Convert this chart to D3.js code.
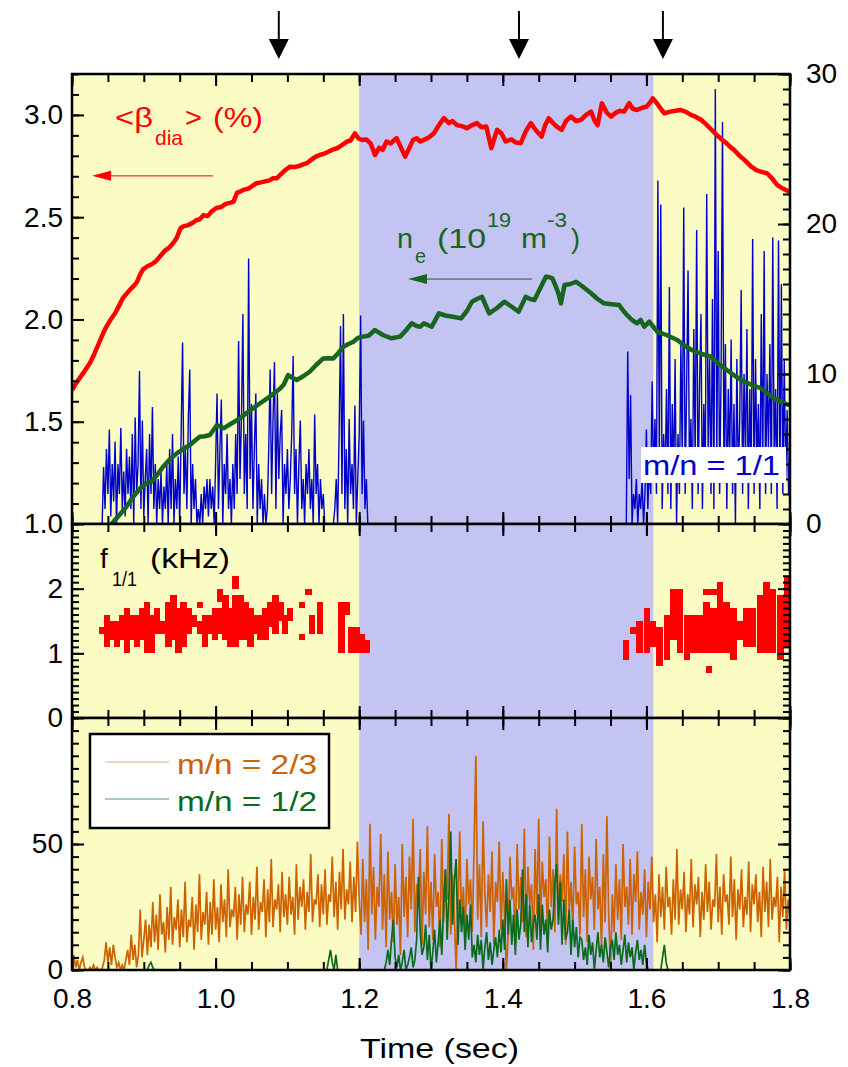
<!DOCTYPE html>
<html>
<head>
<meta charset="utf-8">
<script src="https://cdn.jsdelivr.net/npm/d3@7"></script>
<style>
    body { margin: 0; background: #fff; }
    text { font-family: "Liberation Sans", Arial, sans-serif; }
</style>
</head>
<body>
<svg id="chart" width="848" height="1067"></svg>
<script>
// shaded time windows and marked times (sec)
const shadeBands = [[0.8, 1.2, "#fbfbc4"], [1.2, 1.61, "#c4c4f2"], [1.61, 1.8, "#fbfbc4"]];
const arrowTimes = [1.088, 1.4226, 1.623];

// <beta_dia> (%) : [time, value]
const betaDia = [
    [0.800, 1.655], [0.806, 1.69], [0.812, 1.72], [0.818, 1.75], [0.825, 1.787], [0.831, 1.83],
    [0.837, 1.88], [0.843, 1.93], [0.848, 1.965], [0.854, 2.0], [0.860, 2.03], [0.866, 2.07],
    [0.871, 2.105], [0.877, 2.13], [0.882, 2.15], [0.885, 2.16], [0.890, 2.18], [0.895, 2.22],
    [0.899, 2.245], [0.905, 2.26], [0.911, 2.27], [0.917, 2.285], [0.923, 2.31], [0.929, 2.335],
    [0.935, 2.35], [0.941, 2.374], [0.946, 2.40], [0.951, 2.445], [0.955, 2.455], [0.961, 2.46],
    [0.967, 2.47], [0.973, 2.485], [0.978, 2.49], [0.983, 2.51], [0.989, 2.505], [0.995, 2.53],
    [1.001, 2.545], [1.008, 2.55], [1.014, 2.565], [1.020, 2.57], [1.025, 2.576], [1.030, 2.62],
    [1.034, 2.625], [1.040, 2.635], [1.046, 2.64], [1.052, 2.655], [1.057, 2.666], [1.063, 2.67],
    [1.069, 2.675], [1.075, 2.68], [1.080, 2.69], [1.085, 2.69], [1.091, 2.71], [1.097, 2.73],
    [1.104, 2.747], [1.110, 2.745], [1.116, 2.75], [1.121, 2.757], [1.127, 2.764], [1.133, 2.78],
    [1.139, 2.795], [1.145, 2.804], [1.151, 2.81], [1.157, 2.82], [1.163, 2.83], [1.169, 2.837],
    [1.175, 2.85], [1.180, 2.862], [1.183, 2.87], [1.188, 2.875], [1.194, 2.91], [1.199, 2.885],
    [1.204, 2.877], [1.210, 2.88], [1.216, 2.86], [1.222, 2.804], [1.228, 2.84], [1.233, 2.83],
    [1.238, 2.87], [1.244, 2.86], [1.248, 2.875], [1.252, 2.886], [1.257, 2.85], [1.264, 2.796],
    [1.270, 2.84], [1.275, 2.878], [1.280, 2.886], [1.285, 2.87], [1.290, 2.878], [1.297, 2.89],
    [1.304, 2.91], [1.311, 2.95], [1.318, 2.984], [1.325, 2.96], [1.330, 2.97], [1.336, 2.95],
    [1.343, 2.945], [1.350, 2.935], [1.357, 2.95], [1.364, 2.96], [1.370, 2.94], [1.377, 2.943],
    [1.384, 2.837], [1.392, 2.927], [1.398, 2.91], [1.404, 2.87], [1.412, 2.88], [1.418, 2.865],
    [1.425, 2.862], [1.432, 2.92], [1.439, 2.96], [1.446, 2.925], [1.454, 2.894], [1.459, 2.95],
    [1.464, 2.984], [1.470, 2.96], [1.476, 2.94], [1.482, 2.927], [1.488, 2.97], [1.495, 2.992],
    [1.502, 2.97], [1.509, 2.976], [1.516, 3.0], [1.523, 3.016], [1.528, 2.97], [1.532, 2.95],
    [1.538, 3.057], [1.545, 3.01], [1.551, 2.992], [1.557, 3.01], [1.563, 3.02], [1.569, 3.016],
    [1.576, 3.057], [1.581, 3.03], [1.587, 3.024], [1.594, 3.035], [1.600, 3.04], [1.605, 3.06],
    [1.609, 3.081], [1.614, 3.06], [1.620, 3.03], [1.625, 3.008], [1.632, 3.015], [1.640, 3.02],
    [1.648, 3.024], [1.655, 3.015], [1.662, 3.0], [1.669, 2.99], [1.676, 2.976], [1.683, 2.955],
    [1.690, 2.93], [1.698, 2.902], [1.705, 2.88], [1.712, 2.86], [1.718, 2.84], [1.722, 2.829],
    [1.730, 2.8], [1.738, 2.775], [1.746, 2.747], [1.753, 2.73], [1.760, 2.722], [1.768, 2.715],
    [1.775, 2.69], [1.782, 2.658], [1.790, 2.64], [1.799, 2.625]];

// n_e (10^19 m^-3) : [time, value]
const neLine = [
    [0.855, 0.0], [0.866, 0.6], [0.876, 1.16], [0.885, 1.8], [0.895, 2.38], [0.903, 2.7],
    [0.911, 2.82], [0.919, 3.3], [0.927, 3.82], [0.936, 4.3], [0.946, 4.71], [0.955, 5.0],
    [0.964, 5.27], [0.971, 5.55], [0.978, 5.82], [0.985, 5.85], [0.992, 5.93], [1.002, 6.6],
    [1.011, 6.38], [1.022, 6.7], [1.034, 7.04], [1.043, 7.4], [1.052, 7.71], [1.062, 8.05],
    [1.072, 8.38], [1.081, 8.7], [1.090, 9.04], [1.095, 9.3], [1.101, 9.93], [1.107, 9.75],
    [1.113, 9.6], [1.122, 9.85], [1.131, 10.15], [1.140, 10.6], [1.150, 11.04], [1.157, 11.05],
    [1.164, 11.04], [1.171, 11.4], [1.178, 11.82], [1.185, 12.0], [1.192, 12.15], [1.198, 12.4],
    [1.205, 12.49], [1.213, 12.55], [1.222, 12.93], [1.233, 12.6], [1.245, 12.38], [1.257, 12.49],
    [1.265, 12.9], [1.273, 13.38], [1.280, 13.2], [1.285, 13.15], [1.290, 13.38], [1.301, 13.15],
    [1.311, 14.04], [1.320, 13.9], [1.332, 13.8], [1.342, 13.71], [1.350, 14.2], [1.357, 14.82],
    [1.364, 15.0], [1.371, 15.15], [1.381, 14.04], [1.392, 14.4], [1.402, 14.82], [1.412, 14.5],
    [1.422, 14.15], [1.432, 15.15], [1.438, 15.0], [1.444, 14.93], [1.452, 15.7], [1.460, 16.49],
    [1.465, 16.45], [1.469, 16.38], [1.474, 15.82], [1.478, 15.3], [1.481, 14.71], [1.486, 15.93],
    [1.494, 16.0], [1.502, 16.15], [1.512, 15.8], [1.523, 15.38], [1.532, 15.0], [1.541, 14.71],
    [1.552, 14.65], [1.562, 14.6], [1.568, 14.2], [1.573, 13.93], [1.580, 13.6], [1.587, 13.38],
    [1.592, 13.6], [1.597, 13.15], [1.604, 13.49], [1.615, 12.82], [1.628, 12.6], [1.643, 12.27],
    [1.653, 11.9], [1.663, 11.6], [1.676, 11.35], [1.690, 11.15], [1.700, 10.7], [1.712, 10.27],
    [1.724, 9.85], [1.736, 9.49], [1.748, 9.25], [1.760, 9.04], [1.769, 8.7], [1.778, 8.38],
    [1.789, 8.1], [1.799, 7.93]];

// m/n = 1/1 amplitude (right axis units), sampled every 2 ms
const mode11Step = 0.002;
const mode11StartA = 0.842;
const mode11A = [
    0, 3.8, 1, 5, 2, 6.3, 0.5, 4, 1.5, 5.5, 0, 4, 2, 6.4, 1, 3.5, 0.5, 5, 2, 4.5,
    1, 6, 0, 7.1, 2, 4, 10.2, 1, 6.9, 0.5, 3, 5, 0, 6, 2, 7.8, 1, 4, 0, 3,
    1, 3.5, 0, 2.5, 1, 4, 0, 5, 1, 6, 0, 3, 1, 4.5, 0, 6, 12.1, 2, 5, 1,
    7, 10.3, 0, 4, 1, 3, 0, 1, 0, 2, 0, 2.5, 1, 3, 0.5, 3, 1, 2.5, 0, 4,
    8.7, 1, 5, 8.3, 0, 4, 2, 6, 1, 3, 0, 4, 1, 6, 2, 12.2, 3, 7, 14, 2,
    6, 1, 17.7, 3, 8, 1, 5, 8.7, 0, 4, 1, 3, 0, 2, 0, 1, 5, 10.3, 2, 7,
    10.8, 1, 8.7, 3, 6, 7.6, 0, 4, 2, 5, 1, 3, 6, 11.2, 2, 5, 0, 4, 6.9, 1,
    3, 0, 4, 2, 5, 1, 3, 0, 7.3, 2, 4, 0, 3, 1, 2, 0, 0, 0, 0, 0,
    0, 0, 1, 3, 0, 6, 13.2, 2, 14, 1, 5, 0, 7, 2, 4, 1, 7.9, 0, 3, 6,
    13.9, 2, 6.9, 1, 3, 0, 0, 0];
const mode11StartB = 1.572;
const mode11B = [
    0, 11.5, 3, 8.6, 0, 2, 1, 3, 0, 2, 1, 3, 0, 2, 6.3, 1, 4, 2, 9.5, 3,
    7, 2, 22.9, 4, 21.3, 1, 6, 3, 9, 2, 15.8, 1, 8, 3, 11, 0, 6, 2, 12, 4,
    21.1, 2, 9, 16.9, 3, 7, 1, 13, 4, 19.6, 2, 9, 14, 1, 8, 3, 22, 5, 11, 2,
    15, 1, 29, 4, 18.2, 2, 10, 26.8, 3, 12, 1, 9, 4, 12.3, 2, 8, 0, 11, 3, 7,
    15.6, 2, 10, 4, 13, 1, 9, 3, 19, 2, 11, 4, 8, 1, 14, 3, 18.2, 2, 10, 5,
    12, 2, 19.1, 4, 9, 1, 18.9, 3, 16, 2, 11, 3, 7.6, 2, 5];

// f_1/1 (kHz) spectrogram cells : [time, f low, f high]
const f11CellWidth = 0.009;
const f11Cells = [
    [0.837, 1.3, 1.4], [0.844, 1.1, 1.6], [0.851, 1.2, 1.5], [0.858, 1.1, 1.5], [0.865, 1.2, 1.6],
    [0.872, 1.0, 1.7], [0.879, 1.2, 1.6], [0.886, 1.1, 1.6], [0.893, 1.2, 1.7], [0.900, 1.0, 1.8],
    [0.907, 1.0, 1.6], [0.914, 1.3, 1.7], [0.921, 1.3, 1.5], [0.930, 1.1, 1.8], [0.937, 1.2, 1.9],
    [0.944, 1.0, 1.7], [0.951, 1.1, 1.8], [0.958, 1.3, 1.7], [0.965, 1.4, 1.6], [0.974, 1.7, 1.8],
    [0.974, 1.3, 1.5], [0.981, 1.1, 1.6], [0.988, 1.3, 1.6], [0.995, 1.2, 1.7], [1.002, 1.8, 2.0],
    [1.002, 1.3, 1.7], [1.009, 1.2, 1.9], [1.016, 1.1, 1.7], [1.023, 2.0, 2.2], [1.023, 1.1, 1.9],
    [1.030, 1.2, 1.9], [1.037, 1.2, 1.8], [1.044, 1.1, 1.7], [1.051, 1.3, 1.6], [1.058, 1.2, 1.6],
    [1.065, 1.2, 1.7], [1.072, 1.4, 1.8], [1.079, 1.3, 1.9], [1.086, 1.5, 1.8], [1.092, 1.3, 1.6],
    [1.099, 1.5, 1.7], [1.116, 1.7, 1.8], [1.116, 1.2, 1.3], [1.125, 1.9, 2.0], [1.130, 1.3, 1.6],
    [1.141, 1.3, 1.8], [1.171, 1.0, 1.8], [1.178, 1.6, 1.8], [1.185, 1.0, 1.4], [1.192, 1.0, 1.4],
    [1.199, 1.0, 1.3], [1.206, 1.0, 1.2],
    [1.567, 0.9, 1.2], [1.577, 1.3, 1.4], [1.586, 1.0, 1.5], [1.596, 1.0, 1.7], [1.605, 1.1, 1.5],
    [1.614, 0.8, 1.4], [1.624, 0.9, 1.6], [1.633, 1.2, 2.0], [1.642, 1.0, 2.0], [1.652, 0.9, 1.6],
    [1.661, 1.0, 1.6], [1.670, 1.0, 1.6], [1.679, 1.0, 1.8], [1.679, 1.9, 2.0], [1.683, 0.7, 0.8],
    [1.689, 1.0, 1.7], [1.689, 1.9, 2.0], [1.698, 1.0, 2.1], [1.707, 1.0, 1.8], [1.717, 0.9, 1.7],
    [1.726, 1.2, 1.5], [1.735, 1.1, 1.7], [1.744, 1.1, 1.7], [1.754, 1.0, 1.9], [1.763, 1.0, 2.1],
    [1.772, 1.0, 2.0], [1.782, 0.9, 1.9], [1.792, 1.1, 2.2]];

// m/n = 2/3 amplitude, sampled every 2.5 ms from 0.8 s
const modeStep = 0.0025;
const mode23Start = 0.8;
const mode23 = [
    2, 6, 1, 4, 0, 3, 5, 1, 0, 0, 1, 0, 2, 0, 1, 0, 0, 1, 4, 11,
    3, 9, 2, 10, 5, 1, 3, 0, 2, 0, 4, 8, 2, 14, 4, 10, 1, 6, 24, 5,
    12, 20, 6, 18, 9, 27, 11, 22, 8, 30, 14, 19, 7, 25, 12, 33, 10, 21, 16, 28,
    9, 24, 13, 35, 11, 20, 17, 29, 8, 26, 15, 38, 12, 23, 18, 31, 10, 27, 14, 36,
    16, 25, 11, 34, 19, 28, 13, 40, 17, 24, 21, 33, 12, 30, 18, 37, 15, 26, 22, 35,
    14, 29, 20, 41, 16, 27, 23, 36, 13, 32, 19, 44, 17, 28, 24, 34, 15, 39, 21, 30,
    18, 37, 22, 29, 14, 42, 20, 33, 25, 36, 16, 31, 23, 46, 19, 28, 26, 38, 17, 34,
    22, 40, 18, 30, 27, 45, 21, 35, 16, 39, 24, 48, 20, 32, 26, 43, 19, 37, 23, 51,
    28, 14, 44, 19, 36, 8, 58, 22, 41, 12, 33, 25, 54, 16, 38, 9, 47, 20, 31, 11,
    42, 18, 29, 6, 50, 21, 37, 13, 45, 24, 60, 15, 34, 27, 48, 10, 39, 22, 57, 17,
    35, 12, 46, 25, 31, 9, 52, 19, 40, 28, 62, 14, 38, 21, 0, 24, 55, 18, 33, 11,
    44, 26, 36, 15, 49, 85, 20, 42, 13, 59, 30, 17, 38, 23, 47, 10, 35, 27, 51, 16,
    39, 21, 0, 14, 45, 28, 33, 11, 50, 24, 37, 19, 56, 13, 41, 26, 34, 8, 48, 22,
    60, 18, 43, 29, 36, 12, 53, 25, 40, 15, 64, 20, 38, 27, 46, 10, 55, 23, 35, 17,
    49, 26, 31, 14, 58, 21, 40, 11, 45, 28, 37, 16, 52, 24, 33, 9, 46, 19, 61, 22,
    0, 30, 15, 42, 20, 36, 12, 50, 25, 33, 18, 44, 14, 38, 27, 47, 16, 31, 22, 40,
    13, 35, 24, 45, 19, 30, 11, 38, 21, 33, 16, 41, 25, 29, 14, 36, 20, 48, 18, 32,
    24, 39, 15, 30, 22, 44, 17, 34, 26, 37, 13, 31, 20, 42, 23, 35, 16, 28, 25, 46,
    19, 33, 14, 38, 27, 30, 18, 45, 21, 36, 12, 32, 24, 40, 17, 29, 22, 43, 15, 34,
    26, 38, 19, 31, 13, 41, 23, 35, 17, 44, 20, 29, 25, 37, 11, 33, 21, 40, 16, 28, 20];

// m/n = 1/2 amplitude, same sampling, a few separate bursts
const mode12Bursts = [
    {start: 0.905, values: [0, 2, 3, 1, 0]},
    {start: 1.155, values: [0, 4, 8, 3, 0, 6, 0]},
    {start: 1.235, values: [
        0, 3, 8, 2, 12, 20, 5, 1, 6, 0, 3, 8, 0, 2, 5, 9, 1, 4, 12, 37,
        15, 6, 9, 18, 4, 14, 0, 7, 16, 3, 11, 20, 6, 25, 40, 12, 30, 55, 18, 35,
        44, 10, 28, 15, 25, 8, 22, 12, 26, 5, 10, 3, 14, 6, 12, 0, 9, 15, 4, 11,
        2, 8, 13, 5, 16, 7, 20, 8, 36, 14, 28, 10, 22, 6, 24, 12, 18, 40, 15, 30,
        9, 26, 11, 19, 22, 12, 30, 8, 26, 14, 20, 7, 24, 16, 20, 35, 42, 18, 35, 10,
        28, 12, 15, 24, 6, 20, 9, 17, 5, 13, 12, 4, 9, 2, 14, 6, 11, 0, 8, 15,
        5, 10, 3, 13, 7, 1, 9, 12, 4, 15, 6, 10, 2, 8, 14, 3, 11, 5, 9, 0,
        7, 12, 4, 8, 2, 10, 3, 0]},
    {start: 1.62, values: [0, 5, 10, 3, 0]}];

// annotation arrows in data units
const betaArrow = {from: 0.9964, to: 0.8279, at: 2.702};
const neArrow = {from: 1.4407, to: 1.268, at: 16.33};

const svg = d3.select("#chart");

const x = d3.scaleLinear().domain([0.8, 1.8]).range([72, 790]);
const yBeta = d3.scaleLinear().domain([1.0, 3.2]).range([524, 74]);
const yNe = d3.scaleLinear().domain([0, 30]).range([524, 74]);
const yF = d3.scaleLinear().domain([0, 3]).range([718, 524]);
const yMode = d3.scaleLinear().domain([0, 100]).range([970, 718]);

const panels = [
    {id: "top", y: yBeta, yRight: yNe},
    {id: "mid", y: yF, yRight: yF},
    {id: "bot", y: yMode, yRight: yMode}
];

const defs = svg.append("defs");

panels.forEach(p => {
    const y0 = p.y.range()[1], y1 = p.y.range()[0];
    p.y0 = y0;
    p.y1 = y1;
    p.g = svg.append("g");
    shadeBands.forEach(b => {
        p.g.append("rect")
            .attr("x", x(b[0]))
            .attr("y", y0)
            .attr("width", x(b[1]) - x(b[0]))
            .attr("height", y1 - y0)
            .attr("fill", b[2]);
    });
    defs.append("clipPath").attr("id", "clip-" + p.id)
        .append("rect")
        .attr("x", x(0.8)).attr("y", y0)
        .attr("width", x(1.8) - x(0.8)).attr("height", y1 - y0);
    p.data = p.g.append("g").attr("clip-path", "url(#clip-" + p.id + ")");
});

function sampled(start, step, values) {
    return values.map((v, i) => [start + i * step, v]);
}

// ---- top panel
const topData = panels[0].data;
const lineNe = d3.line().x(d => x(d[0])).y(d => yNe(d[1]));
[sampled(mode11StartA, mode11Step, mode11A), sampled(mode11StartB, mode11Step, mode11B)].forEach(seg => {
    topData.append("path")
        .attr("d", lineNe(seg))
        .attr("fill", "none")
        .attr("stroke", "#0000cc")
        .attr("stroke-width", 1.4);
});

topData.append("path")
    .attr("d", lineNe(neLine))
    .attr("fill", "none")
    .attr("stroke", "#17651f")
    .attr("stroke-width", 4.5)
    .attr("stroke-linejoin", "round");

topData.append("path")
    .attr("d", d3.line().x(d => x(d[0])).y(d => yBeta(d[1]))(betaDia))
    .attr("fill", "none")
    .attr("stroke", "#ff0000")
    .attr("stroke-width", 4.5)
    .attr("stroke-linejoin", "round");

// ---- middle panel
panels[1].data.selectAll("rect")
    .data(f11Cells)
    .join("rect")
    .attr("x", d => x(d[0]))
    .attr("y", d => yF(d[2]))
    .attr("width", d => x(d[0] + f11CellWidth) - x(d[0]))
    .attr("height", d => yF(d[1]) - yF(d[2]))
    .attr("fill", "#ff0000")
    .attr("shape-rendering", "crispEdges");

// ---- bottom panel
const lineMode = d3.line().x(d => x(d[0])).y(d => yMode(d[1]));
panels[2].data.append("path")
    .attr("d", lineMode(sampled(mode23Start, modeStep, mode23)))
    .attr("fill", "none")
    .attr("stroke", "#cc6200")
    .attr("stroke-width", 1.7);
mode12Bursts.forEach(b => {
    panels[2].data.append("path")
        .attr("d", lineMode(sampled(b.start, modeStep, b.values)))
        .attr("fill", "none")
        .attr("stroke", "#0b6a1c")
        .attr("stroke-width", 1.7);
});

// ---- ticks and frames
function addTicks(g, axis, values, size) {
    g.call(axis.tickValues(values).tickSize(size).tickFormat(""));
    g.select(".domain").remove();
    g.selectAll(".tick line").attr("stroke", "#000").attr("stroke-width", 2);
}

const xMinor = d3.range(16, 37).map(k => k / 20);
const xMajor = [0.8, 1.0, 1.2, 1.4, 1.6, 1.8];
const yTicks = {
    top: {minor: d3.range(10, 33).map(k => k / 10), major: [1.0, 1.5, 2.0, 2.5, 3.0]},
    mid: {minor: d3.range(0, 31).map(k => k / 10), major: [0, 1, 2, 3]},
    bot: {minor: d3.range(0, 101, 5), major: [0, 50, 100]}
};
const rightTicks = {minor: d3.range(0, 31), major: [0, 10, 20, 30]};

panels.forEach(p => {
    const t = p.g.append("g");
    addTicks(t.append("g").attr("transform", `translate(0,${p.y0})`), d3.axisBottom(x), xMinor, 8);
    addTicks(t.append("g").attr("transform", `translate(0,${p.y0})`), d3.axisBottom(x), xMajor, 12);
    addTicks(t.append("g").attr("transform", `translate(0,${p.y1})`), d3.axisTop(x), xMinor, 8);
    addTicks(t.append("g").attr("transform", `translate(0,${p.y1})`), d3.axisTop(x), xMajor, 12);
    const yt = yTicks[p.id];
    addTicks(t.append("g").attr("transform", `translate(${x(0.8)},0)`), d3.axisRight(p.y), yt.minor, 7);
    addTicks(t.append("g").attr("transform", `translate(${x(0.8)},0)`), d3.axisRight(p.y), yt.major, 12);
    const rt = p.id === "top" ? rightTicks : yt;
    addTicks(t.append("g").attr("transform", `translate(${x(1.8)},0)`), d3.axisLeft(p.yRight), rt.minor, 7);
    addTicks(t.append("g").attr("transform", `translate(${x(1.8)},0)`), d3.axisLeft(p.yRight), rt.major, 12);
    p.g.append("rect")
        .attr("x", x(0.8)).attr("y", p.y0)
        .attr("width", x(1.8) - x(0.8)).attr("height", p.y1 - p.y0)
        .attr("fill", "none")
        .attr("stroke", "#000")
        .attr("stroke-width", 2.5);
});

// ---- tick labels
function labelAxis(g, axis, values, fmt, pad) {
    g.call(axis.tickValues(values).tickSize(0).tickPadding(pad).tickFormat(fmt));
    g.select(".domain").remove();
    g.attr("font-size", 28).attr("font-family", '"Liberation Sans", Arial, sans-serif');
    g.selectAll("text").attr("fill", "#000");
}

labelAxis(svg.append("g").attr("transform", `translate(${x(0.8)},0)`),
    d3.axisLeft(yBeta), [1.0, 1.5, 2.0, 2.5, 3.0], d3.format(".1f"), 9);
labelAxis(svg.append("g").attr("transform", `translate(${x(1.8)},0)`),
    d3.axisRight(yNe), [0, 10, 20, 30], d3.format("d"), 16);
labelAxis(svg.append("g").attr("transform", `translate(${x(0.8)},0)`),
    d3.axisLeft(yF), [0, 1, 2], d3.format("d"), 9);
labelAxis(svg.append("g").attr("transform", `translate(${x(0.8)},0)`),
    d3.axisLeft(yMode), [0, 50], d3.format("d"), 9);
labelAxis(svg.append("g").attr("transform", `translate(0,${yMode(0)})`),
    d3.axisBottom(x), xMajor, d3.format(".1f"), 18);

// text stretched to the width it has in the original figure
function label(px, py, str, size, color, len) {
    const t = svg.append("text")
        .attr("x", px).attr("y", py)
        .attr("font-size", size)
        .attr("fill", color)
        .text(str);
    if (len) t.attr("textLength", len).attr("lengthAdjust", "spacingAndGlyphs");
    return t;
}

label(360, 1058, "Time (sec)", 28, "#000", 159);

// ---- arrows on top
arrowTimes.forEach(t => {
    const ax = x(t);
    svg.append("line")
        .attr("x1", ax).attr("x2", ax).attr("y1", 11).attr("y2", 44)
        .attr("stroke", "#000").attr("stroke-width", 2);
    svg.append("path")
        .attr("d", `M${ax - 10},39 L${ax + 10},39 L${ax},59 Z`)
        .attr("fill", "#000");
});

// ---- annotations in top panel
function sideArrow(a, yScale, color) {
    const ay = yScale(a.at), x0 = x(a.from), x1 = x(a.to);
    svg.append("line")
        .attr("x1", x0).attr("x2", x1 + 15).attr("y1", ay).attr("y2", ay)
        .attr("stroke", color).attr("stroke-width", 1);
    svg.append("path")
        .attr("d", `M${x1},${ay} L${x1 + 19},${ay - 5} L${x1 + 19},${ay + 5} Z`)
        .attr("fill", color);
}
sideArrow(betaArrow, yBeta, "#ff0000");
sideArrow(neArrow, yNe, "#17651f");

label(115, 127, "<β", 28, "#ff0000", 38);
label(155, 145, "dia", 21, "#ff0000", 28);
label(185, 127, ">", 28, "#ff0000", 17);
label(213, 127, "(%)", 28, "#ff0000", 50);

label(397, 248, "n", 28, "#17651f", 16);
label(415, 263, "e", 21, "#17651f", 11);
label(437, 248, "(10", 28, "#17651f", 49);
label(487, 227, "19", 21, "#17651f", 24);
label(521, 248, "m", 28, "#17651f", 26);
label(547, 227, "-3", 21, "#17651f", 20);
label(571, 248, ")", 28, "#17651f", 9);

svg.append("rect")
    .attr("x", 641).attr("y", 447).attr("width", 145).attr("height", 36)
    .attr("fill", "#fff");
label(643, 475, "m/n = 1/1", 28, "#0000cc", 137);

// ---- middle panel label
label(100, 568, "f", 28, "#000");
label(112, 586, "1/1", 21, "#000", 25);
label(150, 568, "(kHz)", 28, "#000", 80);

// ---- legend
const legend = svg.append("g");
legend.append("rect")
    .attr("x", 90).attr("y", 734).attr("width", 239).attr("height", 94)
    .attr("fill", "#fff").attr("stroke", "#000").attr("stroke-width", 2.5);
[{label: "m/n = 2/3", line: "#eec6a2", color: "#cc6200", y: 762},
 {label: "m/n = 1/2", line: "#8cbc96", color: "#0b6a1c", y: 799}].forEach(d => {
    legend.append("line")
        .attr("x1", 105).attr("x2", 169).attr("y1", d.y).attr("y2", d.y)
        .attr("stroke", d.line).attr("stroke-width", 1.5);
    label(177, d.y + 12, d.label, 28, d.color, 140);
});
</script>
</body>
</html>
